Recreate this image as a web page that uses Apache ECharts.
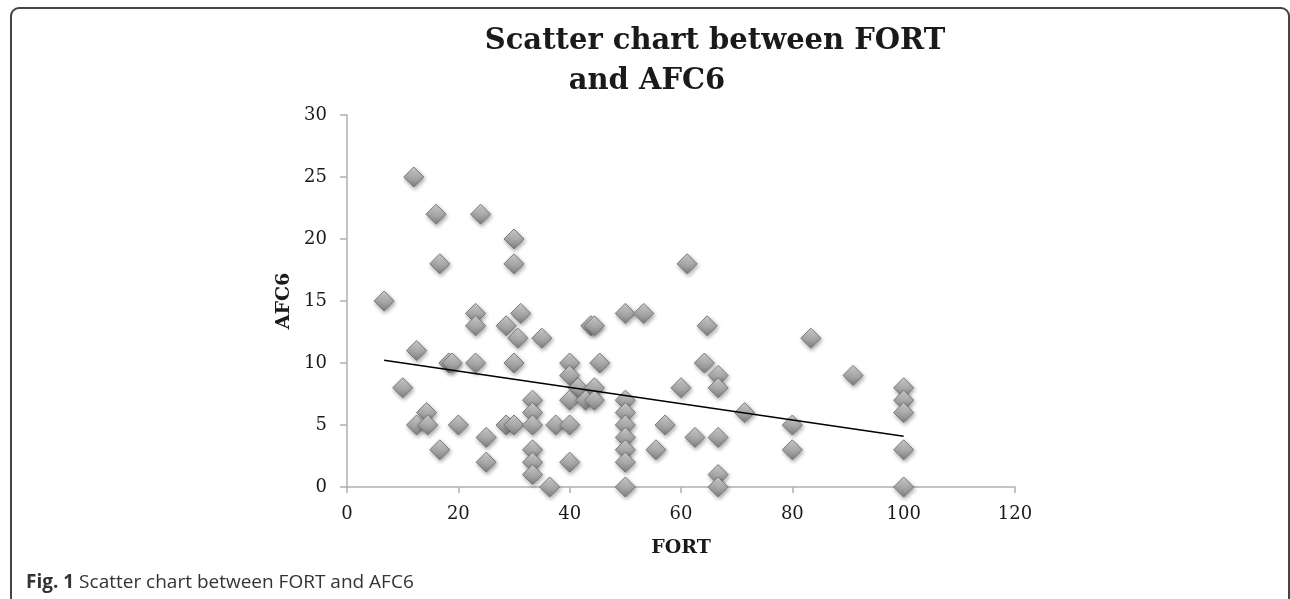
<!DOCTYPE html>
<html>
<head>
<meta charset="utf-8">
<script src="https://cdn.jsdelivr.net/npm/echarts@6/dist/echarts.min.js"></script>
<style>
html,body{margin:0;padding:0;background:#fff;width:1290px;height:599px;overflow:hidden;}
#frame{position:absolute;left:10px;top:7px;width:1280px;height:600px;border:2px solid #444;border-radius:9px;box-sizing:border-box;}
#chart{position:absolute;left:0;top:0;width:1290px;height:599px;}
#cap{position:absolute;left:26px;top:568px;font-family:"Open Sans",sans-serif;font-size:19px;color:#333;white-space:nowrap;}
#cap b{font-weight:700;}
</style>
</head>
<body>
<div id="frame"></div>
<div id="chart"></div>
<div id="cap"><b>Fig. 1</b> Scatter chart between FORT and AFC6</div>
<script>
const titleLines = ["Scatter chart between FORT", "and AFC6"];
const xName = "FORT";
const yName = "AFC6";
const xTicks = [0, 20, 40, 60, 80, 100, 120];
const yTicks = [0, 5, 10, 15, 20, 25, 30];

const fort = [12, 16, 24, 30, 16.67, 30, 61.1, 6.67, 23.1, 31.2, 50, 53.3, 23.1, 28.6, 43.8, 44.44, 64.7, 30.7, 35, 83.33,
  12.5, 18.3, 18.9, 23.1, 30, 40, 45.4, 64.2, 40, 66.67, 90.91, 10, 41.5, 44.44, 60, 66.67, 100, 33.33, 40, 42.86,
  44.44, 50, 100, 14.29, 33.33, 50, 71.43, 100, 12.5, 14.5, 20, 28.57, 30, 33.33, 37.5, 40, 50, 57.14, 80, 25,
  50, 62.5, 66.67, 16.67, 33.33, 50, 55.5, 80, 100, 25, 33.33, 40, 50, 33.33, 66.67, 36.4, 50, 66.67, 100];
const afc6 = [25, 22, 22, 20, 18, 18, 18, 15, 14, 14, 14, 14, 13, 13, 13, 13, 13, 12, 12, 12,
  11, 10, 10, 10, 10, 10, 10, 10, 9, 9, 9, 8, 8, 8, 8, 8, 8, 7, 7, 7,
  7, 7, 7, 6, 6, 6, 6, 6, 5, 5, 5, 5, 5, 5, 5, 5, 5, 5, 5, 4,
  4, 4, 4, 3, 3, 3, 3, 3, 3, 2, 2, 2, 2, 1, 1, 0, 0, 0, 0];

// Linear trend line endpoints
const trendX = [6.67, 100];
const trendY = [10.22, 4.1];

const points = fort.map((x, i) => [x, afc6[i]]);
const trend = trendX.map((x, i) => [x, trendY[i]]);

const serif = '"DejaVu Serif", "Liberation Serif", serif';
const chart = echarts.init(document.getElementById('chart'), null, {renderer: 'canvas'});
chart.setOption({
  animation: false,
  backgroundColor: 'transparent',
  title: [
    {text: titleLines[0], left: 710, top: 22, textAlign: 'center',
     textStyle: {fontFamily: serif, fontWeight: 'bold', fontSize: 29, color: '#1a1a1a'}},
    {text: titleLines[1], left: 642, top: 62, textAlign: 'center',
     textStyle: {fontFamily: serif, fontWeight: 'bold', fontSize: 29, color: '#1a1a1a'}}
  ],
  grid: {left: 347, top: 115, width: 668, height: 372, containLabel: false},
  xAxis: {
    type: 'value', min: xTicks[0], max: xTicks[xTicks.length - 1], interval: xTicks[1] - xTicks[0],
    name: xName, nameLocation: 'middle', nameGap: 52,
    nameTextStyle: {fontFamily: serif, fontWeight: 'bold', fontSize: 19, color: '#1a1a1a'},
    axisLine: {show: true, onZero: false, lineStyle: {color: '#b0b0b0', width: 1.5}},
    axisTick: {show: true, inside: false, length: 6, lineStyle: {color: '#b0b0b0', width: 1.5}},
    axisLabel: {fontFamily: serif, fontSize: 18, color: '#1a1a1a', margin: 18},
    splitLine: {show: false}
  },
  yAxis: {
    type: 'value', min: yTicks[0], max: yTicks[yTicks.length - 1], interval: yTicks[1] - yTicks[0],
    name: yName, nameLocation: 'middle', nameGap: 53, nameRotate: 90,
    nameTextStyle: {fontFamily: serif, fontWeight: 'bold', fontSize: 19, color: '#1a1a1a'},
    axisLine: {show: true, lineStyle: {color: '#b0b0b0', width: 1.5}},
    axisTick: {show: true, inside: false, length: 7, lineStyle: {color: '#b0b0b0', width: 1.5}},
    axisLabel: {fontFamily: serif, fontSize: 18, color: '#1a1a1a', margin: 20},
    splitLine: {show: false}
  },
  series: [
    {
      type: 'scatter', data: points, symbol: 'diamond', symbolSize: [20, 20],
      itemStyle: {
        color: new echarts.graphic.LinearGradient(0, 0, 0, 1, [
          {offset: 0, color: '#d6d6d6'}, {offset: 0.5, color: '#ababab'}, {offset: 1, color: '#7e7e7e'}
        ]),
        borderColor: '#7a7a7a', borderWidth: 1,
        shadowColor: 'rgba(0,0,0,0.35)', shadowBlur: 4, shadowOffsetX: 1, shadowOffsetY: 2,
        opacity: 1
      },
      z: 2
    },
    {
      type: 'line', data: trend, symbol: 'none', silent: true,
      lineStyle: {color: '#000', width: 1.5}, z: 3
    }
  ]
});
</script>
</body>
</html>
